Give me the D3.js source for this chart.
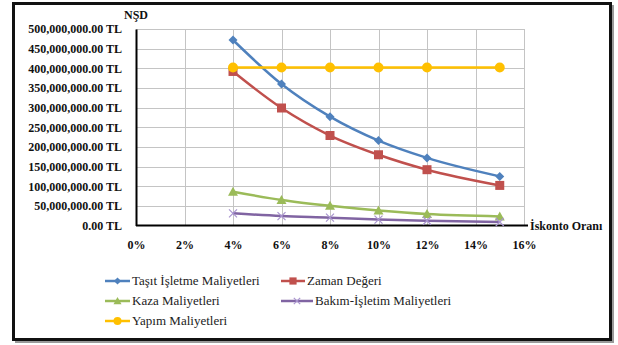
<!DOCTYPE html>
<html>
<head>
<meta charset="utf-8">
<script src="https://cdn.jsdelivr.net/npm/d3@7"></script>
</head>
<body style="margin:0;background:#fff">
<svg id="s" width="618" height="345" style="display:block;font-family:'Liberation Serif'"></svg>
<script>
// Discount rates (%) and present values (million TL) per cost item
const rates = [4, 6, 8, 10, 12, 15];
const tasitIsletme = [472, 360, 277, 216, 172, 125];
const zamanDegeri = [392, 299, 229, 180, 142, 102];
const kazaMaliyet = [86, 65, 50, 38, 29, 23];
const bakimIsletim = [31, 24, 20, 15, 12, 9];
const yapimMaliyet = [402, 402, 402, 402, 402, 402];

const seriesNames = ["Taşıt İşletme Maliyetleri", "Zaman Değeri", "Kaza Maliyetleri",
                     "Bakım-İşletim Maliyetleri", "Yapım Maliyetleri"];
const yTicks = [0, 50, 100, 150, 200, 250, 300, 350, 400, 450, 500];
const xTicks = [0, 2, 4, 6, 8, 10, 12, 14, 16];

const colors = ["#4F81BD", "#C0504D", "#9BBB59", "#8064A2", "#FFC000"];
const markers = ["diamond", "square", "triangle", "cross", "circle"];
const seriesValues = [tasitIsletme, zamanDegeri, kazaMaliyet, bakimIsletim, yapimMaliyet];

const svg = d3.select("#s");

// Outer frame with a soft shadow
svg.append("rect").attr("x", 15).attr("y", 5).attr("width", 599).attr("height", 338)
  .attr("fill", "#9a9a9a");
svg.append("rect").attr("x", 13.5).attr("y", 3.5).attr("width", 597).attr("height", 336)
  .attr("fill", "#fff").attr("stroke", "#111").attr("stroke-width", 3);

const x = d3.scaleLinear().domain([0, 16]).range([136, 524]);
const y = d3.scaleLinear().domain([0, 500]).range([225.5, 29]);

// Gridlines
svg.append("g").selectAll("line").data(yTicks.filter(d => d > 0)).join("line")
  .attr("x1", x(0)).attr("x2", x(16))
  .attr("y1", d => Math.round(y(d)) + 0.5).attr("y2", d => Math.round(y(d)) + 0.5)
  .attr("stroke", "#c4c4c4").attr("stroke-width", 1);
svg.append("g").selectAll("line").data(xTicks.filter(d => d > 0)).join("line")
  .attr("y1", y(500)).attr("y2", y(0))
  .attr("x1", d => Math.round(x(d)) + 0.5).attr("x2", d => Math.round(x(d)) + 0.5)
  .attr("stroke", "#c4c4c4").attr("stroke-width", 1);

// Y axis
const fmtY = d => d3.format(",.2f")(d * 1e6) + " TL";
const yAxis = svg.append("g").attr("transform", `translate(${x(0)},0)`)
  .call(d3.axisLeft(y).tickValues(yTicks).tickFormat(fmtY).tickSize(0).tickPadding(14));
yAxis.attr("font-family", null).attr("font-size", null);
yAxis.select(".domain").attr("stroke", "#000").attr("stroke-width", 2);
yAxis.selectAll("text")
  .style("font-family", '"Liberation Serif"').style("font-size", "12px").style("font-weight", "bold")
  .attr("fill", "#111");

// X axis with labels placed below the plot
const xAxis = svg.append("g").attr("transform", `translate(0,${y(0)})`)
  .call(d3.axisBottom(x).tickValues(xTicks).tickFormat(d => d + "%").tickSize(0).tickPadding(15));
xAxis.attr("font-family", null).attr("font-size", null);
xAxis.select(".domain").remove();
xAxis.selectAll("text")
  .style("font-family", '"Liberation Serif"').style("font-size", "12px").style("font-weight", "bold")
  .attr("fill", "#111");
svg.append("line").attr("x1", x(0)).attr("x2", 528).attr("y1", y(0)).attr("y2", y(0))
  .attr("stroke", "#000").attr("stroke-width", 2);

// Axis titles
svg.append("text").attr("x", 136).attr("y", 19).attr("text-anchor", "middle")
  .style("font-family", '"Liberation Serif"').style("font-size", "12px").style("font-weight", "bold")
  .attr("fill", "#111").text("NŞD");
svg.append("text").attr("x", 530).attr("y", y(0) + 4)
  .style("font-family", '"Liberation Serif"').style("font-size", "12px").style("font-weight", "bold")
  .attr("fill", "#111").text("İskonto Oranı");

// Marker shapes
function drawMarker(g, type, cx, cy, color, scale) {
  const s = scale || 1;
  if (type === "diamond") {
    const r = 4.5 * s;
    g.append("path").attr("d", `M${cx},${cy - r}L${cx + r},${cy}L${cx},${cy + r}L${cx - r},${cy}Z`).attr("fill", color);
  } else if (type === "square") {
    const r = 4.5 * s;
    g.append("rect").attr("x", cx - r).attr("y", cy - r).attr("width", 2 * r).attr("height", 2 * r).attr("fill", color);
  } else if (type === "triangle") {
    const r = 5 * s;
    g.append("path").attr("d", `M${cx},${cy - r}L${cx + r},${cy + r * 0.8}L${cx - r},${cy + r * 0.8}Z`).attr("fill", color);
  } else if (type === "cross") {
    const r = 4 * s;
    g.append("path").attr("d", `M${cx - r},${cy - r}L${cx + r},${cy + r}M${cx - r},${cy + r}L${cx + r},${cy - r}`)
      .attr("stroke", "#a995cf").attr("stroke-width", 1.2).attr("fill", "none");
  } else if (type === "circle") {
    g.append("circle").attr("cx", cx).attr("cy", cy).attr("r", 5 * s).attr("fill", color);
  }
}

// Series lines and markers
const line = d3.line().x((d, i) => x(rates[i])).y(d => y(d)).curve(d3.curveMonotoneX);
const plot = svg.append("g");
seriesValues.forEach((vals, k) => {
  plot.append("path").datum(vals).attr("d", line)
    .attr("fill", "none").attr("stroke", colors[k]).attr("stroke-width", 2.5);
});
seriesValues.forEach((vals, k) => {
  const g = plot.append("g");
  vals.forEach((v, i) => drawMarker(g, markers[k], x(rates[i]), y(v), colors[k]));
});

// Legend
const legendPos = [
  { lx: 105, ly: 281, len: 25 },
  { lx: 281, ly: 281, len: 24 },
  { lx: 105, ly: 301, len: 25 },
  { lx: 281, ly: 301, len: 32 },
  { lx: 105, ly: 321, len: 25 }
];
const legend = svg.append("g");
seriesNames.forEach((name, k) => {
  const p = legendPos[k];
  legend.append("line").attr("x1", p.lx).attr("x2", p.lx + p.len).attr("y1", p.ly).attr("y2", p.ly)
    .attr("stroke", colors[k]).attr("stroke-width", 2.5);
  drawMarker(legend, markers[k], p.lx + p.len / 2, p.ly, colors[k], 0.8);
  legend.append("text").attr("x", p.lx + p.len + 2).attr("y", p.ly + 4)
    .style("font-family", '"Liberation Serif"').style("font-size", "13px")
    .attr("fill", "#222").text(name);
});
</script>
</body>
</html>
